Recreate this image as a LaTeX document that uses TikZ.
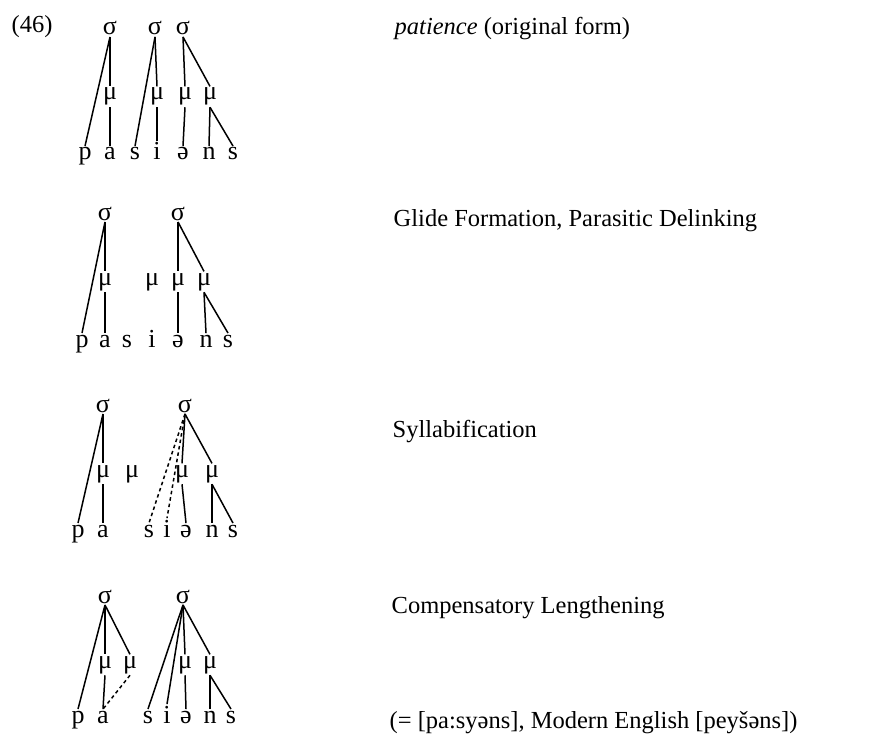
\documentclass[tikz,border=0pt]{standalone}
\usepackage{fontspec}
\setmainfont{Liberation Serif}

\begin{document}
\begin{tikzpicture}[x=1pt, y=-1pt,
  every node/.style={font=\fontsize{26}{30}\selectfont, inner sep=1.5pt, anchor=base},
  label/.style={anchor=base west, font=\fontsize{24.5}{28}\selectfont},
  tie/.style={line width=1.5pt},
  loose/.style={line width=1.5pt, dash pattern=on 3.5pt off 3pt}]
  \useasboundingbox (0,0) rectangle (889,741);
  \node[label] (num) at (10,33) {(46)};
  % original form
  \node (sig1a) at (110,35) {σ};
  \node (sig1b) at (155,35) {σ};
  \node (sig1c) at (183,35) {σ};
  \node (mu1a) at (110,100) {μ};
  \node (mu1b) at (157,100) {μ};
  \node (mu1c) at (185,100) {μ};
  \node (mu1d) at (210,100) {μ};
  \node (p1) at (85,160) {p};
  \node (a1) at (110,160) {a};
  \node (s1) at (135,160) {s};
  \node (i1) at (157,160) {i};
  \node (shwa1) at (183,160) {ə};
  \node (n1) at (209,160) {n};
  \node (sf1) at (233,160) {s};
  \draw[tie] (sig1a.south) -- (p1.north);
  \draw[tie] (sig1a.south) -- (mu1a.north);
  \draw[tie] (mu1a.south) -- (a1.north);
  \draw[tie] (sig1b.south) -- (s1.north);
  \draw[tie] (sig1b.south) -- (mu1b.north);
  \draw[tie] (mu1b.south) -- (i1.north);
  \draw[tie] (sig1c.south) -- (mu1c.north);
  \draw[tie] (mu1c.south) -- (shwa1.north);
  \draw[tie] (sig1c.south) -- (mu1d.north);
  \draw[tie] (mu1d.south) -- (n1.north);
  \draw[tie] (mu1d.south) -- (sf1.north);
  \node[label] (lab1) at (393,35) {\textit{patience} (original form)};
  % glide formation
  \node (sig2a) at (105,220) {σ};
  \node (sig2b) at (178,220) {σ};
  \node (mu2a) at (105,285) {μ};
  \node (mu2b) at (152,285) {μ};
  \node (mu2c) at (178,285) {μ};
  \node (mu2d) at (204,285) {μ};
  \node (p2) at (82,347) {p};
  \node (a2) at (105,347) {a};
  \node (s2) at (127,347) {s};
  \node (i2) at (152,347) {i};
  \node (shwa2) at (178,347) {ə};
  \node (n2) at (206,347) {n};
  \node (sf2) at (228,347) {s};
  \draw[tie] (sig2a.south) -- (p2.north);
  \draw[tie] (sig2a.south) -- (mu2a.north);
  \draw[tie] (mu2a.south) -- (a2.north);
  \draw[tie] (sig2b.south) -- (mu2c.north);
  \draw[tie] (mu2c.south) -- (shwa2.north);
  \draw[tie] (sig2b.south) -- (mu2d.north);
  \draw[tie] (mu2d.south) -- (n2.north);
  \draw[tie] (mu2d.south) -- (sf2.north);
  \node[label] (lab2) at (392,226) {Glide Formation, Parasitic Delinking};
  % syllabification
  \node (sig3a) at (103,412) {σ};
  \node (sig3b) at (185,412) {σ};
  \node (mu3a) at (103,477) {μ};
  \node (mu3b) at (132,477) {μ};
  \node (mu3c) at (182,477) {μ};
  \node (mu3d) at (212,477) {μ};
  \node (p3) at (78,537) {p};
  \node (a3) at (103,537) {a};
  \node (s3) at (149,537) {s};
  \node (i3) at (167,537) {i};
  \node (shwa3) at (186,537) {ə};
  \node (n3) at (212,537) {n};
  \node (sf3) at (233,537) {s};
  \draw[tie] (sig3a.south) -- (p3.north);
  \draw[tie] (sig3a.south) -- (mu3a.north);
  \draw[tie] (mu3a.south) -- (a3.north);
  \draw[loose] (sig3b.south) -- (s3.north);
  \draw[loose] (sig3b.south) -- (i3.north);
  \draw[tie] (sig3b.south) -- (mu3c.north);
  \draw[tie] (mu3c.south) -- (shwa3.north);
  \draw[tie] (sig3b.south) -- (mu3d.north);
  \draw[tie] (mu3d.south) -- (n3.north);
  \draw[tie] (mu3d.south) -- (sf3.north);
  \node[label] (lab3) at (391,437) {Syllabification};
  % compensatory lengthening
  \node (sig4a) at (105,603) {σ};
  \node (sig4b) at (183,603) {σ};
  \node (mu4a) at (105,668) {μ};
  \node (mu4b) at (130,668) {μ};
  \node (mu4c) at (185,668) {μ};
  \node (mu4d) at (210,668) {μ};
  \node (p4) at (78,723) {p};
  \node (a4) at (103,723) {a};
  \node (s4) at (148,723) {s};
  \node (i4) at (167,723) {i};
  \node (shwa4) at (186,723) {ə};
  \node (n4) at (210,723) {n};
  \node (sf4) at (231,723) {s};
  \draw[tie] (sig4a.south) -- (p4.north);
  \draw[tie] (sig4a.south) -- (mu4a.north);
  \draw[tie] (sig4a.south) -- (mu4b.north);
  \draw[tie] (mu4a.south) -- (a4.north);
  \draw[loose] (mu4b.south) -- (a4.north);
  \draw[tie] (sig4b.south) -- (s4.north);
  \draw[tie] (sig4b.south) -- (i4.north);
  \draw[tie] (sig4b.south) -- (mu4c.north);
  \draw[tie] (mu4c.south) -- (shwa4.north);
  \draw[tie] (sig4b.south) -- (mu4d.north);
  \draw[tie] (mu4d.south) -- (n4.north);
  \draw[tie] (mu4d.south) -- (sf4.north);
  \node[label] (lab4) at (390,613) {Compensatory Lengthening};
  \node[label] (lab5) at (388,728) {(= [pa:syəns], Modern English [peyšəns])};
\end{tikzpicture}
\end{document}
